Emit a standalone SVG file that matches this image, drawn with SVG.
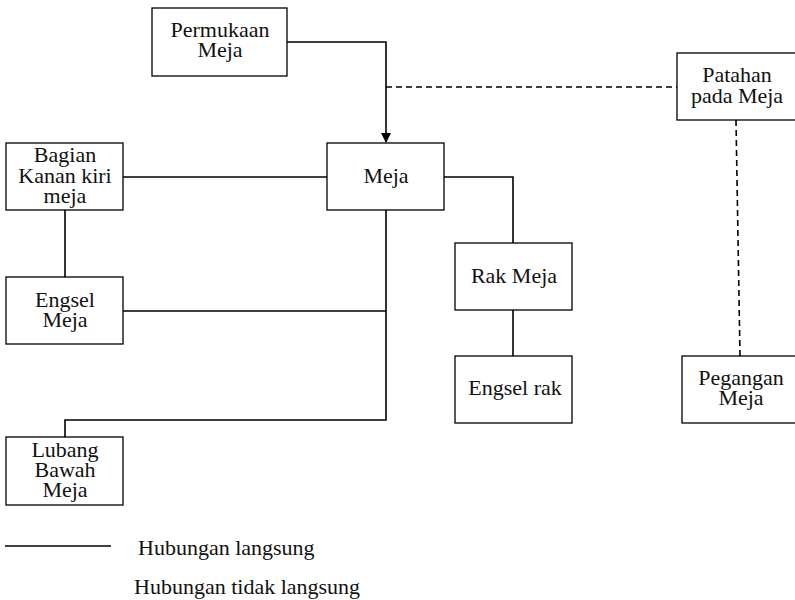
<svg xmlns="http://www.w3.org/2000/svg" width="795" height="600" viewBox="0 0 795 600">
  <style>
    .box { fill: #ffffff; stroke: #000000; stroke-width: 1.3; }
    .lbl { font-family: 'Liberation Serif', 'Times New Roman', serif; font-size: 22px; fill: #111111; text-anchor: middle; }
    .leg { font-family: 'Liberation Serif', 'Times New Roman', serif; font-size: 22px; fill: #111111; }
    .solid { fill: none; stroke: #000000; stroke-width: 1.6; }
    .dash { fill: none; stroke: #000000; stroke-width: 1.6; stroke-dasharray: 6 4; }
  </style>
  <defs>
    <marker id="arrow" markerWidth="10" markerHeight="10" refX="9" refY="5" orient="auto" markerUnits="userSpaceOnUse">
      <path d="M0,0 L10,5 L0,10 Z" fill="#000000"/>
    </marker>
  </defs>
  <rect width="795" height="600" fill="#ffffff"/>

  <!-- connectors -->
  <g id="connectors">
    <path class="solid" d="M287,42 H386 V142" marker-end="url(#arrow)"/>
    <path class="dash" d="M386,87 H677"/>
    <path class="dash" d="M736,120 L740,356"/>
    <path class="solid" d="M123,177 H327"/>
    <path class="solid" d="M65,210 V277"/>
    <path class="solid" d="M123,311 H386"/>
    <path class="solid" d="M386,210 V420 H65 V437"/>
    <path class="solid" d="M444,177 H513 V243"/>
    <path class="solid" d="M513,310 V356"/>
  </g>

  <g id="permukaan-meja">
    <rect class="box" x="152" y="8" width="135" height="68"/>
    <text class="lbl" x="220" y="37">Permukaan</text>
    <text class="lbl" x="220" y="57">Meja</text>
  </g>

  <g id="meja">
    <rect class="box" x="327" y="143" width="117" height="67"/>
    <text class="lbl" x="386" y="183">Meja</text>
  </g>

  <g id="patahan-pada-meja">
    <rect class="box" x="677" y="53" width="120" height="67"/>
    <text class="lbl" x="737" y="82">Patahan</text>
    <text class="lbl" x="737" y="103">pada Meja</text>
  </g>

  <g id="bagian-kanan-kiri">
    <rect class="box" x="6" y="143" width="117" height="67"/>
    <text class="lbl" x="65" y="162">Bagian</text>
    <text class="lbl" x="65" y="183">Kanan kiri</text>
    <text class="lbl" x="65" y="203">meja</text>
  </g>

  <g id="engsel-meja">
    <rect class="box" x="6" y="277" width="117" height="67"/>
    <text class="lbl" x="65" y="307">Engsel</text>
    <text class="lbl" x="65" y="327">Meja</text>
  </g>

  <g id="lubang-bawah-meja">
    <rect class="box" x="6" y="437" width="117" height="68"/>
    <text class="lbl" x="65" y="457">Lubang</text>
    <text class="lbl" x="65" y="477">Bawah</text>
    <text class="lbl" x="65" y="497">Meja</text>
  </g>

  <g id="rak-meja">
    <rect class="box" x="455" y="243" width="117" height="67"/>
    <text class="lbl" x="514" y="283">Rak Meja</text>
  </g>

  <g id="engsel-rak">
    <rect class="box" x="455" y="356" width="117" height="67"/>
    <text class="lbl" x="515" y="395">Engsel rak</text>
  </g>

  <g id="pegangan-meja">
    <rect class="box" x="682" y="356" width="115" height="67"/>
    <text class="lbl" x="741" y="385">Pegangan</text>
    <text class="lbl" x="741" y="405">Meja</text>
  </g>

  <!-- legend -->
  <g id="legend">
    <line class="solid" x1="5" y1="546" x2="111" y2="546"/>
    <text class="leg" x="138" y="555">Hubungan langsung</text>
    <text class="leg" x="134" y="594">Hubungan tidak langsung</text>
  </g>
</svg>
